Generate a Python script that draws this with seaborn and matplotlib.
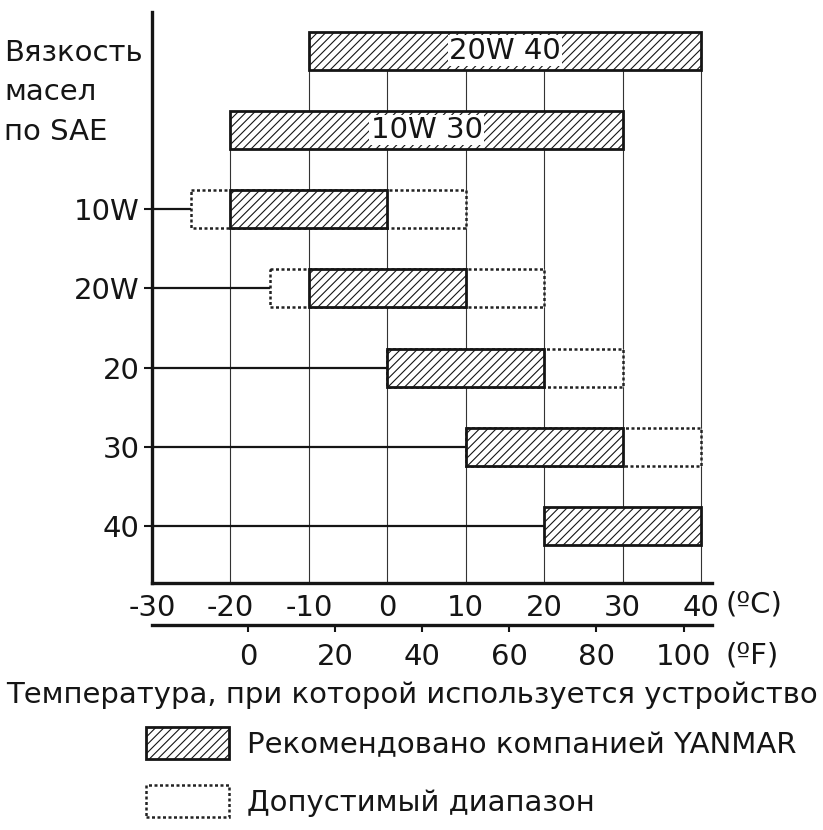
import matplotlib
matplotlib.use("Agg")
import matplotlib.pyplot as plt
import matplotlib.transforms as mtransforms
from matplotlib.patches import Patch
import seaborn as sns

# SAE grades, top to bottom
grades = ["20W 40", "10W 30", "10W", "20W", "20", "30", "40"]
# recommended range (°C)
rec_lo = [-10, -20, -20, -10, 0, 10, 20]
rec_hi = [40, 30, 0, 10, 20, 30, 40]
# permissible range (°C)
ok_lo = [-10, -20, -25, -15, 0, 10, 20]
ok_hi = [40, 30, 10, 20, 30, 40, 40]
c_ticks = [-30, -20, -10, 0, 10, 20, 30, 40]
f_ticks = [0, 20, 40, 60, 80, 100]

sns.set_theme(style="white")
plt.rcParams["font.family"] = ["DejaVu Sans"]
plt.rcParams["axes.unicode_minus"] = False
plt.rcParams["hatch.linewidth"] = 0.8

W, H = 823, 830
FS = 21
INK = "#151515"
fig = plt.figure(figsize=(W / 100, H / 100), dpi=100)
fig.patch.set_facecolor("white")
ax = fig.add_axes([152 / W, 1 - 583 / H, (712 - 152) / W, (583 - 12) / H])
ax.set_facecolor("white")
rows = list(range(len(grades)))
ax.set_xlim(-30, 41.4)
ax.set_ylim(6.72, -0.49)

# grid lines run up to the first bar that covers them
for x in c_ticks[1:]:
    top = min(i for i in rows if rec_lo[i] <= x <= rec_hi[i])
    ax.vlines(x, top, 6.72, color="#333333", lw=0.8, zorder=1)

dotted = (0, (1.2, 1.0))
wide = [i for i in rows if (ok_lo[i], ok_hi[i]) != (rec_lo[i], rec_hi[i])]
ax.barh([rows[i] for i in wide], [ok_hi[i] - ok_lo[i] for i in wide],
        left=[ok_lo[i] for i in wide], height=0.48, color="white",
        edgecolor="#222222", linestyle=dotted, lw=1.8, zorder=2)
ax.barh(rows, [h - l for l, h in zip(rec_lo, rec_hi)], left=rec_lo,
        height=0.48, color="white", edgecolor=INK, hatch="////",
        lw=2, zorder=3)

# lead lines from the axis to each grade's range
for i in rows[2:]:
    ax.hlines(i, -30, ok_lo[i], color=INK, lw=1.6, zorder=2)

for i in rows[:2]:
    ax.text((rec_lo[i] + rec_hi[i]) / 2, i, grades[i], ha="center",
            va="center", fontsize=FS, color=INK, zorder=4,
            bbox=dict(facecolor="white", edgecolor="none", pad=1))

ax.set_yticks(rows[2:], grades[2:])
ax.set_xticks(c_ticks)
ax.tick_params(axis="y", left=True, length=5.8, width=1.5, pad=3,
               labelsize=FS, colors=INK)
ax.tick_params(axis="x", bottom=True, length=0, pad=8.0, labelsize=FS,
               colors=INK)
sns.despine(ax=ax)
for s in ["left", "bottom"]:
    ax.spines[s].set_linewidth(2.4)
    ax.spines[s].set_color(INK)

secax = ax.secondary_xaxis(-42 / 571, functions=(lambda c: c * 9 / 5 + 32,
                                                  lambda f: (f - 32) * 5 / 9))
secax.set_xticks(f_ticks)
secax.tick_params(bottom=True, length=5, width=1.5, pad=8.0, labelsize=FS,
                  colors=INK)
secax.spines["bottom"].set_linewidth(2.4)
secax.spines["bottom"].set_color(INK)

fig.text(725 / W, 1 - 605 / H, "(ºC)", va="center", fontsize=FS, color=INK)
fig.text(725 / W, 1 - 655 / H, "(ºF)", va="center", fontsize=FS, color=INK)

trans = mtransforms.blended_transform_factory(fig.transFigure, ax.transData)
for txt, y in [("Вязкость", 0.126), ("масел", 0.62), ("по SAE", 1.126)]:
    ax.text(4 / W, y, txt, transform=trans, va="baseline", ha="left",
            fontsize=FS, color=INK)

fig.text(0.5, 1 - 695 / H, "Температура, при которой используется устройство",
         ha="center", va="center", fontsize=FS, color=INK)

px = FS * 100 / 72
handles = [
    Patch(facecolor="white", edgecolor=INK, hatch="////", lw=2,
          label="Рекомендовано компанией YANMAR"),
    Patch(facecolor="white", edgecolor="#222222", linestyle=dotted, lw=1.8,
          label="Допустимый диапазон"),
]
fig.legend(handles=handles, loc="upper left", bbox_to_anchor=(146 / W, 1 - 727 / H),
           frameon=False, fontsize=FS, handlelength=83 / px, handleheight=38 / px,
           handletextpad=18 / px, labelspacing=(64 - 38) / px, borderpad=0,
           borderaxespad=0, labelcolor=INK)

fig.savefig("out.png", dpi=100, facecolor="white")
